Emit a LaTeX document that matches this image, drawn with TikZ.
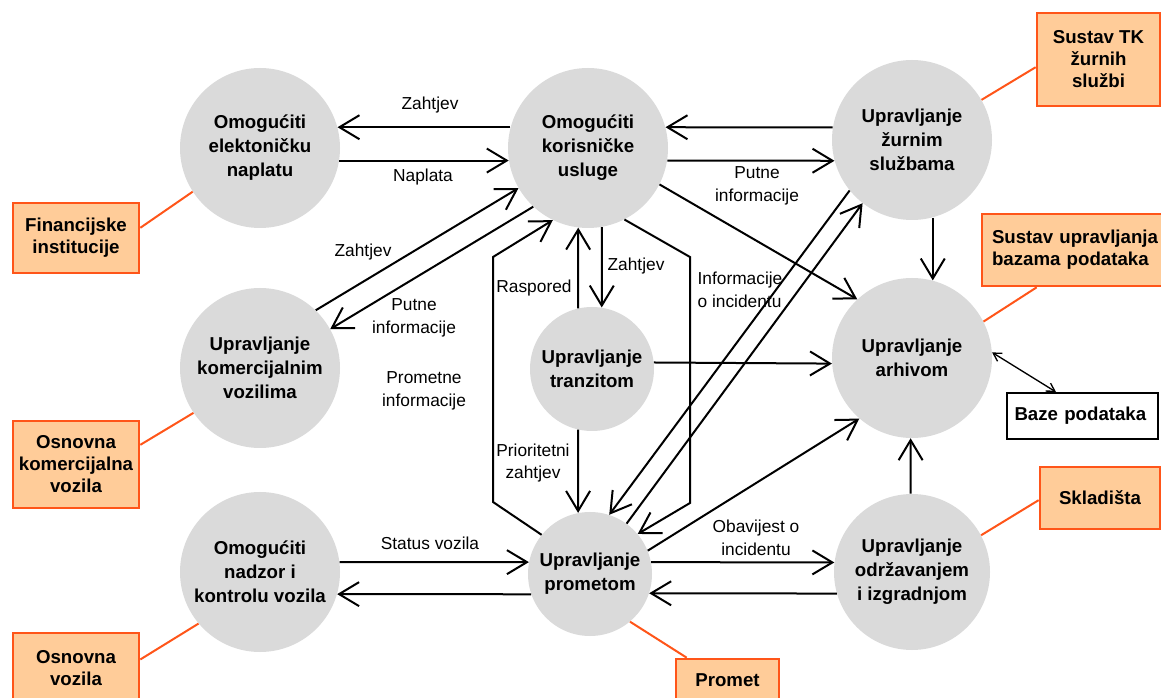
\documentclass[tikz,border=0pt]{standalone}
\usepackage{fontspec}
\setmainfont{Liberation Sans}
\usetikzlibrary{arrows.meta,calc}
\definecolor{circ}{RGB}{218,218,218}
\definecolor{boxfill}{RGB}{255,204,153}
\definecolor{boxline}{RGB}{255,85,25}
\begin{document}
\begin{tikzpicture}[x=0.75pt,y=-0.75pt,
 proc/.style={circle,fill=circ,draw=none,minimum size=120pt,inner sep=0pt,align=center,font=\fontsize{14}{18}\selectfont\bfseries},
 procs/.style={proc,minimum size=93pt},
 ext/.style={rectangle,fill=boxfill,draw=boxline,line width=2pt,inner sep=0pt,align=center,font=\fontsize{14}{16.5}\selectfont\bfseries},
 lbl/.style={font=\fontsize{13}{17}\selectfont,align=center,inner sep=0pt},
 arr/.style={line width=1.5pt,-{Straight Barb[length=15pt,width=18pt]}},
 link/.style={draw=boxline,line width=1.5pt}
]
\useasboundingbox (0,0) rectangle (1161,698);
% process circles
\node[proc] (c1) at (260,148) {Omogućiti\\elektoničku\\naplatu};
\node[proc] (c2) at (588,148) {Omogućiti\\korisničke\\usluge};
\node[proc] (c3) at (912,140) {Upravljanje\\žurnim\\službama};
\node[proc] (c4) at (260,368) {Upravljanje\\komercijalnim\\vozilima};
\node[procs] (c5) at (592,369) {Upravljanje\\tranzitom};
\node[proc] (c6) at (912,358) {Upravljanje\\arhivom};
\node[proc] (c7) at (260,572) {Omogućiti\\nadzor i\\kontrolu vozila};
\node[procs] (c8) at (590,574) {Upravljanje\\prometom};
\node[proc,minimum size=117pt] (c9) at (912,572) {Upravljanje\\održavanjem\\i izgradnjom};
% external boxes
\node[ext,minimum width=94.5pt,minimum height=52.5pt] (fin) at (76,238) {Financijske\\institucije};
\node[ext,minimum width=94.5pt,minimum height=65.25pt] (okv) at (76,464.5) {Osnovna\\komercijalna\\vozila};
\node[ext,minimum width=94.5pt,minimum height=53.25pt] (ov) at (76,668.5) {Osnovna\\vozila};
\node[ext,minimum width=77.25pt,minimum height=31.5pt] (prom) at (727.5,680) {Promet};
\node[ext,minimum width=92.25pt,minimum height=69.75pt] (tk) at (1098.5,59.5) {Sustav TK\\žurnih\\službi};
\node[ext,minimum width=142.5pt,minimum height=54pt,align=left,text width=127.5pt] (sub) at (1077,250) {Sustav upravljanja\\bazama podataka};
\node[ext,minimum width=90pt,minimum height=46.5pt] (skl) at (1100,498) {Skladišta};
\node[rectangle,draw=black,fill=white,line width=1.5pt,minimum width=113.25pt,minimum height=34.5pt,inner sep=0pt,text width=102pt,align=left,font=\fontsize{14}{16.5}\selectfont\bfseries] (baze) at (1082.5,416) {Baze podataka};
% polyline corners
\coordinate (pl1) at (493,502);
\coordinate (pl2) at (493,257);
\coordinate (pr1) at (690,257);
\coordinate (pr2) at (690,503);
% arrows
\draw[arr] (c2.165) -- (c1.15);
\draw[arr] (c1.-9) -- (c2.189);
\draw[arr] (c3.171) -- (c2.15);
\draw[arr] (c2.-9) -- (c3.195);
\draw[arr] (c2.-27) -- (c6.133);
\draw[arr] (c3.-75) -- (c6.75);
\draw[arr] (c4.46) -- (c2.210);
\draw[arr] (c2.227) -- (c4.29);
\draw[arr] (c8.141) -- (pl1) -- (pl2) -- (c2.244);
\draw[arr] (c2.-63) -- (pr1) -- (pr2) -- (c8.40);
\draw[arr] (c5.103) -- (c2.263);
\draw[arr] (c2.280) -- (c5.81);
\draw[arr] (c5.257) -- (c8.101);
\draw[arr] (c5.6) -- (c6.184);
\draw[arr] (c3.219) -- (c8.72);
\draw[arr] (c8.54) -- (c3.232);
\draw[arr] (c8.22) -- (c6.229);
\draw[arr] (c8.11) -- (c9.173);
\draw[arr] (c9.196) -- (c8.-18);
\draw[arr] (c9.91) -- (c6.269);
\draw[arr] (c7.7) -- (c8.169);
\draw[arr] (c8.199) -- (c7.-16);
% labels
\node[lbl] (l1) at (430,105) {Zahtjev};
\node[lbl] (l2) at (423,177) {Naplata};
\node[lbl] (l3) at (757,186) {Putne\\informacije};
\node[lbl] (l4) at (363,252) {Zahtjev};
\node[lbl] (l5) at (414,318) {Putne\\informacije};
\node[lbl] (l6) at (424,391) {Prometne\\informacije};
\node[lbl] (l7) at (534,288) {Raspored};
\node[lbl] (l8) at (636,266) {Zahtjev};
\node[lbl,align=left] (l9) at (740,290) {Informacije\\o incidentu};
\node[lbl] (l10) at (533,463) {Prioritetni\\zahtjev};
\node[lbl] (l11) at (756,538) {Obavijest o\\incidentu};
\node[lbl] (l12) at (430,543) {Status vozila};
% links to external entities
\draw[link] (fin.9) -- (c1.213);
\draw[link] (okv.17) -- (c4.214);
\draw[link] (ov.8) -- (c7.220);
\draw[link] ([xshift=9pt]prom.north west) -- (c8.-50);
\draw[link] (tk.187) -- (c3.30);
\draw[link] ([xshift=42pt]sub.south west) -- (c6.27);
\draw[link] (skl.182) -- (c9.28);
\draw[line width=1pt,{Straight Barb[length=6pt,width=7pt]}-{Straight Barb[length=6pt,width=7pt]}] (c6.4) -- ([xshift=37.5pt]baze.north west);
\end{tikzpicture}
\end{document}
